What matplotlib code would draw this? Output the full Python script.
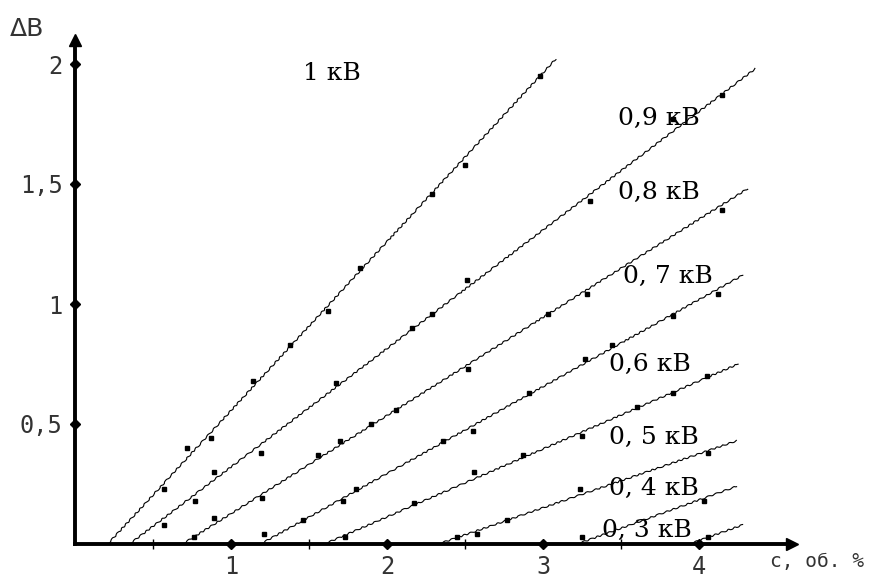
import matplotlib
matplotlib.use("Agg")
import matplotlib.pyplot as plt

# straight-line fits: (x start, x end), (y start, y end)
line_labels = ["1 кВ", "0,9 кВ", "0,8 кВ", "0, 7 кВ", "0,6 кВ", "0, 5 кВ", "0, 4 кВ", "0, 3 кВ"]
fit_x = [[0.21, 3.08], [0.35, 4.36], [0.69, 4.31], [1.19, 4.28],
         [1.60, 4.25], [2.33, 4.24], [3.22, 4.24], [3.94, 4.28]]
fit_y = [[0, 2.02], [0, 1.98], [0, 1.48], [0, 1.12],
         [0, 0.75], [0, 0.43], [0, 0.24], [0, 0.08]]

# measured points
pts_x = [
    [0.57, 0.72, 0.87, 1.14, 1.38, 1.62, 1.83, 2.29, 2.50, 2.98],
    [0.57, 0.77, 0.89, 1.19, 1.67, 2.16, 2.29, 2.51, 3.30, 3.83, 4.15],
    [0.76, 0.89, 1.20, 1.56, 1.70, 1.90, 2.06, 2.52, 3.03, 3.28, 4.15],
    [1.21, 1.46, 1.72, 1.80, 2.36, 2.55, 2.91, 3.27, 3.44, 3.83, 4.12],
    [1.73, 2.17, 2.56, 2.87, 3.25, 3.60, 3.83, 4.05],
    [2.45, 2.58, 2.77, 3.24, 4.06],
    [3.25, 4.03],
    [4.06],
]
pts_y = [
    [0.23, 0.40, 0.44, 0.68, 0.83, 0.97, 1.15, 1.46, 1.58, 1.95],
    [0.08, 0.18, 0.30, 0.38, 0.67, 0.90, 0.96, 1.10, 1.43, 1.77, 1.87],
    [0.03, 0.11, 0.19, 0.37, 0.43, 0.50, 0.56, 0.73, 0.96, 1.04, 1.39],
    [0.04, 0.10, 0.18, 0.23, 0.43, 0.47, 0.63, 0.77, 0.83, 0.95, 1.04],
    [0.03, 0.17, 0.30, 0.37, 0.45, 0.57, 0.63, 0.70],
    [0.03, 0.04, 0.10, 0.23, 0.38],
    [0.03, 0.18],
    [0.03],
]
# label anchor (left, middle)
lab_x = [1.46, 3.48, 3.48, 3.51, 3.42, 3.42, 3.42, 3.38]
lab_y = [1.96, 1.775, 1.463, 1.113, 0.746, 0.442, 0.233, 0.058]

x_ticks = [1, 2, 3, 4]
x_ticklabels = ["1", "2", "3", "4"]
x_minor = [0.5, 1.5, 2.5, 3.5]
y_ticks = [0.5, 1, 1.5, 2]
y_ticklabels = ["0,5", "1", "1,5", "2"]

fig = plt.figure(figsize=(8.81, 5.79), dpi=100)
ax = fig.add_axes([75 / 881, 35 / 579, 717 / 881, 504 / 579])
ax.set_xlim(0, 4.596)
ax.set_ylim(0, 2.10)

for i in range(len(line_labels)):
    ln, = ax.plot(fit_x[i], fit_y[i], color="black", lw=0.8, zorder=2)
    ln.set_sketch_params(0.7, 8, 2)
    ax.plot(pts_x[i], pts_y[i], "s", color="black", ms=2.2, zorder=3)
    ax.text(lab_x[i], lab_y[i], line_labels[i], family="DejaVu Serif",
            fontsize=18, ha="left", va="center", zorder=4)

# axes look
for s in ["top", "right"]:
    ax.spines[s].set_visible(False)
for s in ["left", "bottom"]:
    ax.spines[s].set_linewidth(2.8)
ax.plot(1, 0, ">", color="black", ms=8, transform=ax.transAxes, clip_on=False)
ax.plot(0, 1, "^", color="black", ms=8, transform=ax.transAxes, clip_on=False)
ax.plot(x_ticks, [0] * len(x_ticks), "D", color="black", ms=5, clip_on=False, zorder=5)
ax.plot([0] * len(y_ticks), y_ticks, "D", color="black", ms=5, clip_on=False, zorder=5)

ax.set_xticks(x_ticks, x_ticklabels)
ax.set_xticks(x_minor, minor=True)
ax.set_yticks(y_ticks, y_ticklabels)
ax.tick_params(axis="both", which="major", length=0, labelsize=17,
               labelcolor="#333333")
ax.tick_params(axis="x", which="major", pad=8)
ax.tick_params(axis="y", which="major", pad=9)
ax.tick_params(axis="x", which="minor", direction="inout", length=7, width=1)
for lbl in ax.get_xticklabels() + ax.get_yticklabels():
    lbl.set_family("DejaVu Sans Mono")

fig.text(10 / 881, 1 - 36 / 579, "ΔB", family="DejaVu Sans", fontsize=18,
         color="#333333", ha="left", va="baseline")
fig.text(770 / 881, 1 - 567 / 579, "с, об. %", family="DejaVu Sans Mono",
         fontsize=14, color="#333333", ha="left", va="baseline")

fig.savefig("out.png", dpi=100, facecolor="white")
